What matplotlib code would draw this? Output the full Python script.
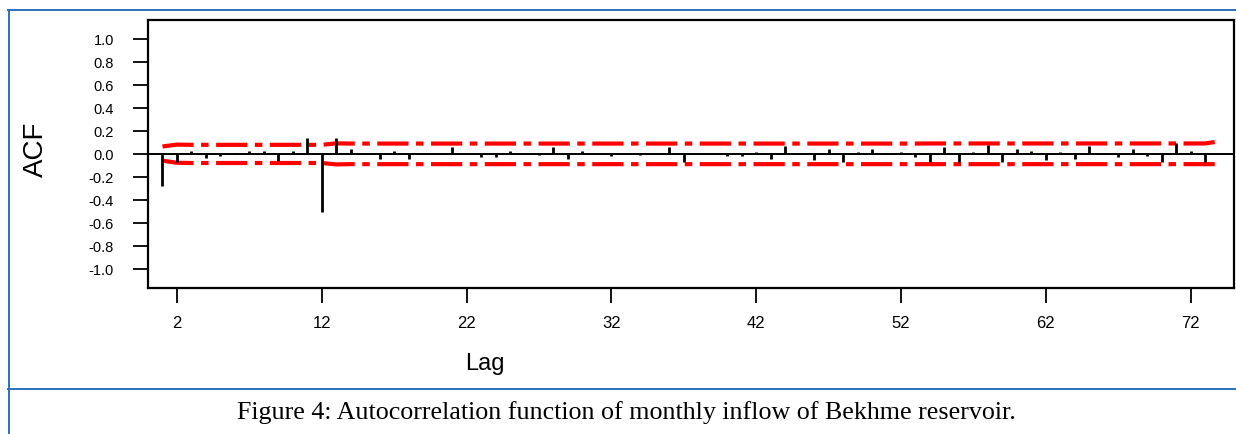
import numpy as np
import matplotlib
matplotlib.use("Agg")
import matplotlib.pyplot as plt
from matplotlib.lines import Line2D

# ---------------------------------------------------------
# data
# ---------------------------------------------------------
lags = list(range(1, 75))

acf = [
    -0.28, -0.065, 0.03, -0.035, -0.015, 0.01, 0.03, 0.03, -0.06, 0.03,
    0.14, -0.50, 0.14, 0.045, 0.01, -0.04, 0.03, -0.04, 0.0, 0.0,
    0.06, 0.0, -0.025, -0.025, 0.03, 0.0, -0.01, 0.06, -0.04, 0.03,
    0.0, -0.02, 0.0, -0.01, 0.0, 0.06, -0.07, 0.0, 0.0, -0.02,
    -0.015, 0.02, -0.04, 0.07, 0.0, -0.055, 0.04, -0.07, 0.02, 0.045,
    0.01, 0.015, -0.03, -0.07, 0.065, -0.07, 0.02, 0.08, -0.07, 0.045,
    0.03, -0.055, 0.02, -0.04, 0.07, 0.01, -0.025, 0.045, -0.02, -0.07,
    0.095, 0.03, -0.07, 0.0,
]

upper_limit = (
    [0.066, 0.082, 0.080, 0.080, 0.080, 0.080, 0.080, 0.080, 0.080, 0.080,
     0.080, 0.080, 0.093]
    + [0.091] * 40
    + [0.092] * 20
    + [0.11]
)
lower_limit = (
    [-0.058, -0.076, -0.078, -0.078, -0.078, -0.078, -0.078, -0.078, -0.078,
     -0.078, -0.078, -0.078, -0.090]
    + [-0.088] * 61
)

xticks = [2, 12, 22, 32, 42, 52, 62, 72]
yticks = [-1.0, -0.8, -0.6, -0.4, -0.2, 0.0, 0.2, 0.4, 0.6, 0.8, 1.0]

caption = "Figure 4: Autocorrelation function of monthly inflow of Bekhme reservoir."

# ---------------------------------------------------------
# figure
# ---------------------------------------------------------
W, H = 1236, 434
fig = plt.figure(figsize=(W / 100, H / 100), dpi=100)
plt.rcParams["font.family"] = ["Liberation Sans", "DejaVu Sans"]

ax = fig.add_axes([148 / W, 1 - 288 / H, (1234 - 148) / W, (288 - 19.5) / H])

# confidence limits (red dash-dot)
dash = (0, (7.5, 1.8, 1.8, 1.8))
ax.plot(lags, upper_limit, color="#ff0000", lw=3.0, linestyle=dash, zorder=2)
ax.plot(lags, lower_limit, color="#ff0000", lw=3.0, linestyle=dash, zorder=2)

# zero line and acf spikes
ax.axhline(0, color="black", lw=1.4, zorder=3)
ax.vlines(lags, 0, acf, color="black", lw=2.0, zorder=4)

ax.set_xlim(0.0, 75.0)
ax.set_ylim(-1.165, 1.17)
ax.set_xticks(xticks)
ax.set_xticklabels([str(t) for t in xticks], fontsize=12)
ax.set_yticks(yticks)
ax.set_yticklabels([f"{t:.1f}" for t in yticks], fontsize=10.5)

ax.tick_params(axis="x", direction="out", length=11, width=1.3, pad=9, color="black")
ax.tick_params(axis="y", direction="out", length=10.5, width=1.3, pad=14, color="black")
for sp in ax.spines.values():
    sp.set_linewidth(1.6)
    sp.set_color("black")

fig.text(36 / W, 1 - 149 / H, "ACF", fontsize=20, rotation=90,
         ha="center", va="center")
fig.text(485 / W, 1 - 364 / H, "Lag", fontsize=17, ha="center", va="center")

# blue frame of the document box
blue = "#2a72bd"
fig.add_artist(Line2D([8.5 / W, 8.5 / W], [0, 1 - 10 / H], color=blue, lw=1.4))
fig.add_artist(Line2D([8 / W, 1], [1 - 10 / H, 1 - 10 / H], color=blue, lw=1.4))
fig.add_artist(Line2D([8 / W, 1], [1 - 389 / H, 1 - 389 / H], color=blue, lw=1.4))

fig.text(626 / W, 1 - 413 / H, caption, fontsize=18.7, ha="center", va="center",
         family=["Liberation Serif", "DejaVu Serif"])

fig.savefig("out.png", dpi=100)
